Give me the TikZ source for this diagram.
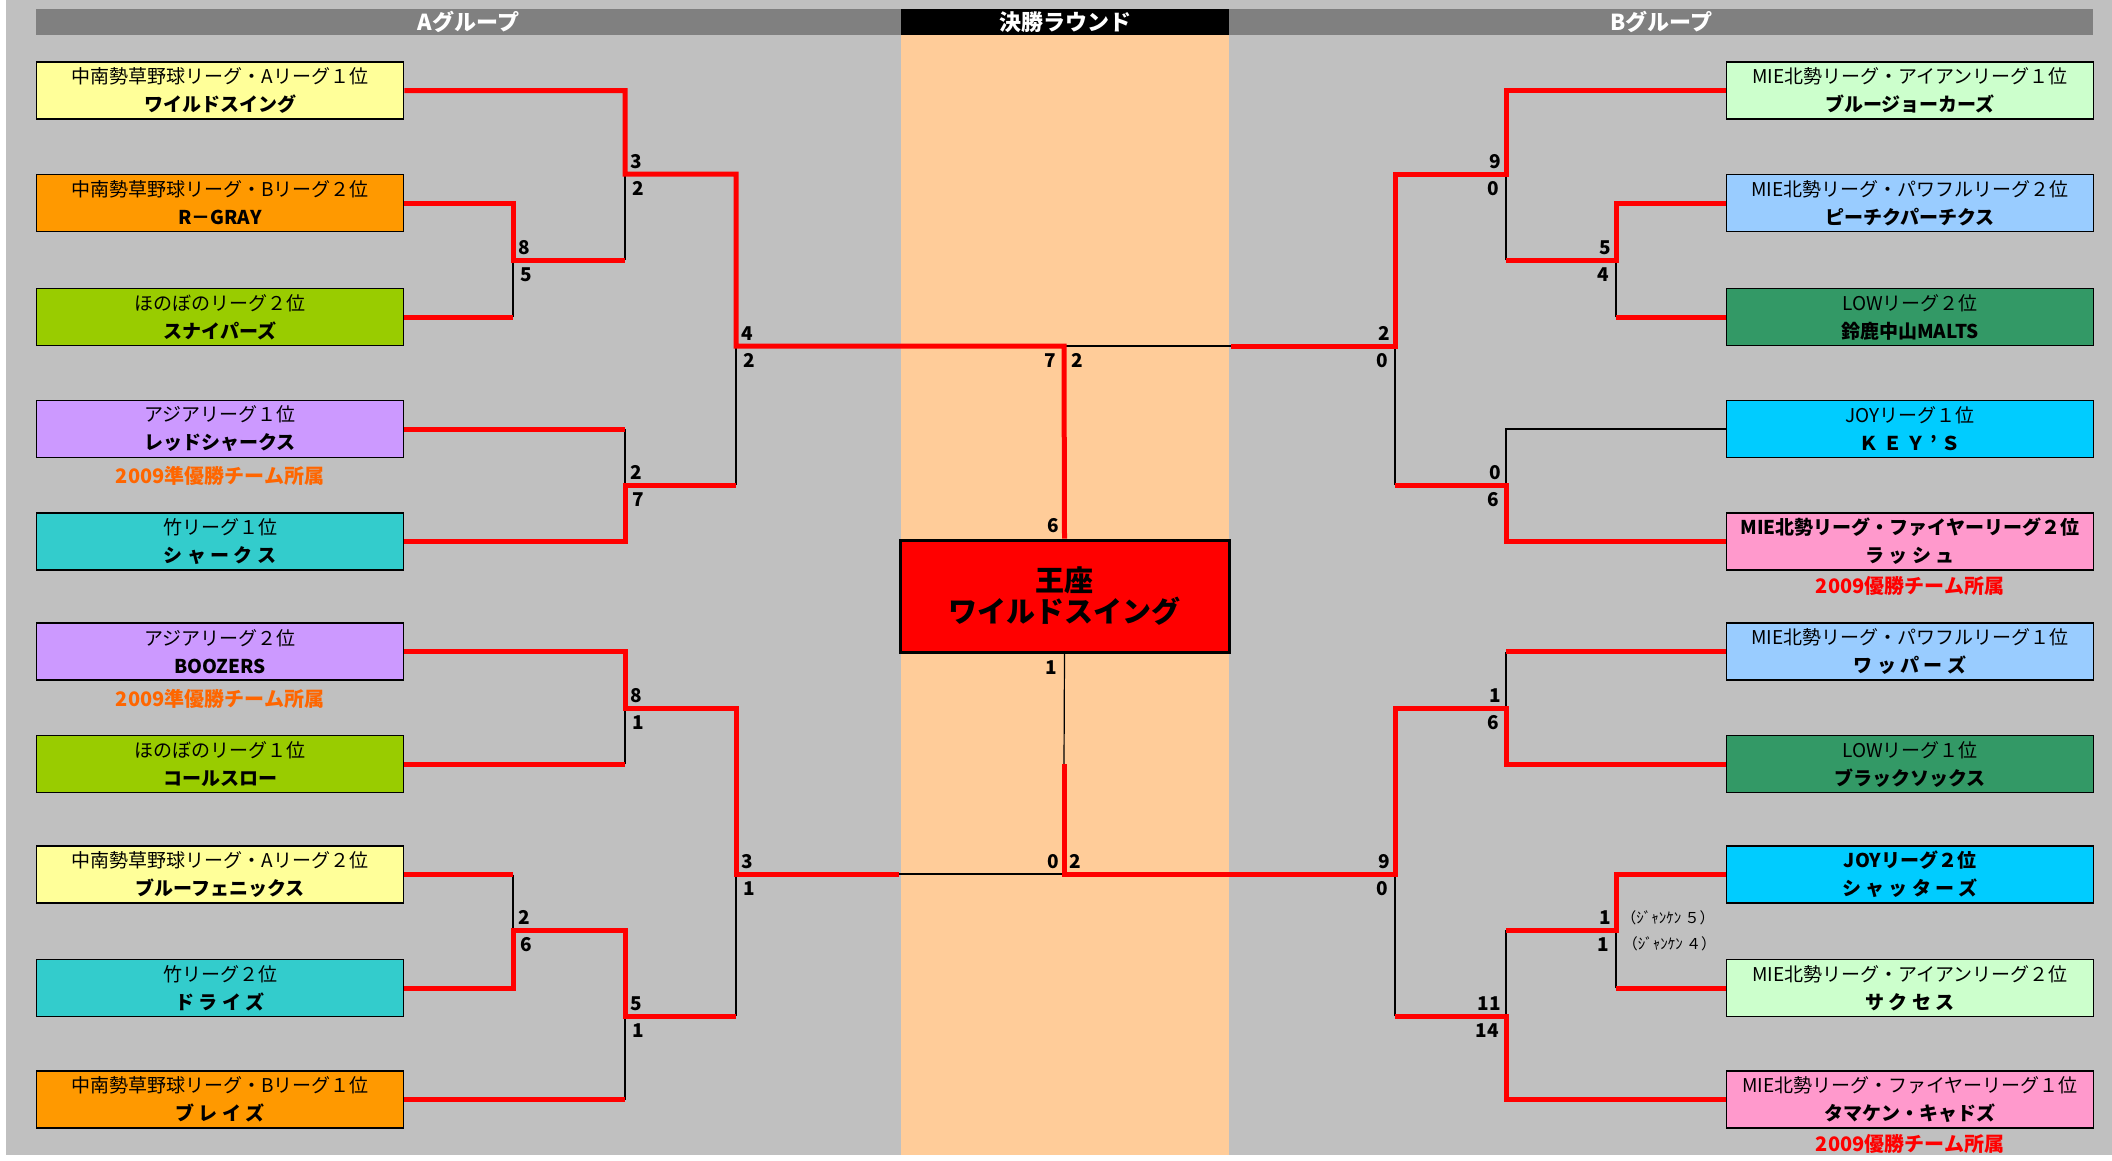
\documentclass[tikz,border=0pt]{standalone}
\usepackage{fontspec}
\setmainfont{Noto Sans CJK JP}
\usetikzlibrary{positioning}
\definecolor{bggray}{HTML}{C0C0C0}
\definecolor{bargray}{HTML}{808080}
\definecolor{peach}{HTML}{FFCC99}
\definecolor{tmyellow}{HTML}{FFFF99}
\definecolor{tmorange}{HTML}{FF9900}
\definecolor{tmlime}{HTML}{99CC00}
\definecolor{tmlilac}{HTML}{CC99FF}
\definecolor{tmteal}{HTML}{33CCCC}
\definecolor{tmmint}{HTML}{CCFFCC}
\definecolor{tmsky}{HTML}{99CCFF}
\definecolor{tmgreen}{HTML}{339966}
\definecolor{tmcyan}{HTML}{00CCFF}
\definecolor{tmpink}{HTML}{FF99CC}
\definecolor{runnerup}{HTML}{FF6600}
\definecolor{winred}{HTML}{FF0000}

\tikzset{
  team/.style={draw=black, line width=1.6pt, minimum width=367pt, minimum height=57pt,
    inner sep=0pt, align=center, font=\fontsize{19}{28}\selectfont},
  hbar/.style={minimum height=26pt, inner sep=0pt, text=white, font=\fontsize{22}{22}\selectfont\bfseries},
  win/.style={draw=winred, line width=5pt},
  lose/.style={draw=black, line width=1.2pt},
  score/.style={font=\fontsize{19}{19}\selectfont\bfseries, inner sep=3pt},
  jank/.style={font=\fontsize{15}{15}\selectfont, inner sep=3pt},
  note/.style={font=\fontsize{20}{20}\selectfont\bfseries, inner sep=0pt},
  crown/.style={draw=black, line width=3pt, fill=winred, minimum width=329pt, minimum height=112pt,
    align=center, font=\fontsize{29}{31}\selectfont\bfseries}
}

\begin{document}
\begin{tikzpicture}[x=1pt, y=-1pt]
  \useasboundingbox (0,0) rectangle (2112,1160);
  \fill[white] (0,0) rectangle (2112,1160);
  \fill[bggray] (6,0) rectangle (2112,1155);
  \fill[peach] (901,35) rectangle (1229,1155);

  % header
  \node[hbar, fill=bargray, minimum width=865pt] (hA) at (468.5,22) {Aグループ};
  \node[hbar, fill=black, minimum width=328pt] (hF) at (1065,22) {決勝ラウンド};
  \node[hbar, fill=bargray, minimum width=864pt] (hB) at (1661,22) {Bグループ};

  % A group
  \node[team, fill=tmyellow] (a1) at (220,90.5) {中南勢草野球リーグ・Aリーグ１位\\\textbf{ワイルドスイング}};
  \node[team, fill=tmorange] (a2) at (220,203) {中南勢草野球リーグ・Bリーグ２位\\\textbf{R－GRAY}};
  \node[team, fill=tmlime] (a3) at (220,317) {ほのぼのリーグ２位\\\textbf{スナイパーズ}};
  \node[team, fill=tmlilac] (a4) at (220,429) {アジアリーグ１位\\\textbf{レッドシャークス}};
  \node[team, fill=tmteal] (a5) at (220,541.5) {竹リーグ１位\\\textbf{シ ャ ー ク ス}};
  \node[team, fill=tmlilac] (a6) at (220,651.5) {アジアリーグ２位\\\textbf{BOOZERS}};
  \node[team, fill=tmlime] (a7) at (220,764) {ほのぼのリーグ１位\\\textbf{コールスロー}};
  \node[team, fill=tmyellow] (a8) at (220,874.5) {中南勢草野球リーグ・Aリーグ２位\\\textbf{ブルーフェニックス}};
  \node[team, fill=tmteal] (a9) at (220,988) {竹リーグ２位\\\textbf{ド ラ イ ズ}};
  \node[team, fill=tmorange] (a10) at (220,1099.5) {中南勢草野球リーグ・Bリーグ１位\\\textbf{ブ レ イ ズ}};
  \node[note, text=runnerup, below=8pt of a4] (a4note) {2009準優勝チーム所属};
  \node[note, text=runnerup, below=8pt of a6] (a6note) {2009準優勝チーム所属};

  % B group
  \node[team, fill=tmmint] (b1) at (1910,90.5) {MIE北勢リーグ・アイアンリーグ１位\\\textbf{ブルージョーカーズ}};
  \node[team, fill=tmsky] (b2) at (1910,203) {MIE北勢リーグ・パワフルリーグ２位\\\textbf{ピーチクパーチクス}};
  \node[team, fill=tmgreen] (b3) at (1910,317) {LOWリーグ２位\\\textbf{鈴鹿中山MALTS}};
  \node[team, fill=tmcyan] (b4) at (1910,429) {JOYリーグ１位\\\textbf{Ｋ Ｅ Ｙ ’ Ｓ}};
  \node[team, fill=tmpink] (b5) at (1910,541.5) {\textbf{MIE北勢リーグ・ファイヤーリーグ２位}\\\textbf{ラ ッ シ ュ}};
  \node[team, fill=tmsky] (b6) at (1910,651.5) {MIE北勢リーグ・パワフルリーグ１位\\\textbf{ワ ッ パ ー ズ}};
  \node[team, fill=tmgreen] (b7) at (1910,764) {LOWリーグ１位\\\textbf{ブラックソックス}};
  \node[team, fill=tmcyan] (b8) at (1910,874.5) {\textbf{JOYリーグ２位}\\\textbf{シ ャ ッ タ ー ズ}};
  \node[team, fill=tmmint] (b9) at (1910,988) {MIE北勢リーグ・アイアンリーグ２位\\\textbf{サ ク セ ス}};
  \node[team, fill=tmpink] (b10) at (1910,1099.5) {MIE北勢リーグ・ファイヤーリーグ１位\\\textbf{タマケン・キャドズ}};
  \node[note, text=winred, below=5pt of b5] (b5note) {2009優勝チーム所属};
  \node[note, text=winred, below=5pt of b10] (b10note) {2009優勝チーム所属};

  % final
  \node[crown] (ou) at (1064.5,596) {王座\\ワイルドスイング};

  % junctions
  \coordinate (c23) at (513,260);
  \coordinate (c1) at (625,174);
  \coordinate (c45) at (625,485);
  \coordinate (sLt) at (736,346);
  \coordinate (c67) at (625,708);
  \coordinate (c89) at (513,930);
  \coordinate (c10) at (625,1016);
  \coordinate (sLb) at (736,874);
  \coordinate (ftop) at (1064,346);
  \coordinate (fmid) at (1064,764);
  \coordinate (fbot) at (1064,874);
  \coordinate (d23) at (1616,260);
  \coordinate (d1) at (1506,174);
  \coordinate (d45) at (1506,485);
  \coordinate (sRt) at (1395,346);
  \coordinate (d67) at (1506,708);
  \coordinate (d89) at (1616,930);
  \coordinate (d10) at (1506,1016);
  \coordinate (sRb) at (1395,874);

  % losing lines
  \draw[lose] (a3.east -| c23) -- (c23);
  \draw[lose] (c23 -| c1) -- (c1);
  \draw[lose] (a4.east -| c45) -- (c45);
  \draw[lose] (c45 -| sLt) -- (sLt);
  \draw[lose] (a7.east -| c67) -- (c67);
  \draw[lose] (a8.east -| c89) -- (c89);
  \draw[lose] (a10.east -| c10) -- (c10);
  \draw[lose] (c10 -| sLb) -- (sLb);
  \draw[lose] (sLb -| ou.west) -- (fbot);
  \draw[lose] (ftop) -- (ftop -| ou.east);
  \draw[lose] (ou.south) -- (fmid);
  \draw[lose] (b3.west -| d23) -- (d23);
  \draw[lose] (d23 -| d1) -- (d1);
  \draw[lose] (b4.west) -| (d45);
  \draw[lose] (d45 -| sRt) -- (sRt);
  \draw[lose] (b6.west -| d67) -- (d67);
  \draw[lose] (b9.west -| d89) -- (d89);
  \draw[lose] (d89 -| d10) -- (d10);
  \draw[lose] (d10 -| sRb) -- (sRb);

  % winning lines
  \draw[win] (a1.east) -| (c1) -| (sLt) -- (ftop) -- (ou.north);
  \draw[win] (a2.east) -| (c23) -- (c23 -| c1);
  \draw[win] (a3.east) -- (a3.east -| c23);
  \draw[win] (a4.east) -- (a4.east -| c45);
  \draw[win] (a5.east) -| (c45) -- (c45 -| sLt);
  \draw[win] (a6.east) -| (c67) -| (sLb) -- (sLb -| ou.west);
  \draw[win] (a7.east) -- (a7.east -| c67);
  \draw[win] (a8.east) -- (a8.east -| c89);
  \draw[win] (a9.east) -| (c89) -| (c10) -- (c10 -| sLb);
  \draw[win] (a10.east) -- (a10.east -| c10);
  \draw[win] (b1.west) -| (d1) -| (sRt) -- (ftop -| ou.east);
  \draw[win] (b2.west) -| (d23) -- (d23 -| d1);
  \draw[win] (b3.west) -- (b3.west -| d23);
  \draw[win] (b5.west) -| (d45) -- (d45 -| sRt);
  \draw[win] (b6.west) -- (b6.west -| d67);
  \draw[win] (b7.west) -| (d67) -| (sRb) -- (fbot) -- (fmid);
  \draw[win] (b8.west) -| (d89) -- (d89 -| d10);
  \draw[win] (b9.west) -- (b9.west -| d89);
  \draw[win] (b10.west) -| (d10) -- (d10 -| sRb);

  % scores
  \node[score, above right=3pt] at (c23) {8};
  \node[score, below right=6pt] at (c23) {5};
  \node[score, above right=3pt] at (c1) {3};
  \node[score, below right=6pt] at (c1) {2};
  \node[score, above right=3pt] at (c45) {2};
  \node[score, below right=6pt] at (c45) {7};
  \node[score, above right=3pt] at (sLt) {4};
  \node[score, below right=6pt] at (sLt) {2};
  \node[score, above right=3pt] at (c67) {8};
  \node[score, below right=6pt] at (c67) {1};
  \node[score, above right=3pt] at (c89) {2};
  \node[score, below right=6pt] at (c89) {6};
  \node[score, above right=3pt] at (c10) {5};
  \node[score, below right=6pt] at (c10) {1};
  \node[score, above right=3pt] at (sLb) {3};
  \node[score, below right=6pt] at (sLb) {1};
  \node[score, below left=6pt] at (ftop) {7};
  \node[score, below right=6pt] at (ftop) {2};
  \node[score, above left=3pt] at (ou.north) {6};
  \node[score, below left=6pt] at (ou.south) {1};
  \node[score, above left=3pt] at (fbot) {0};
  \node[score, above right=3pt] at (fbot) {2};
  \node[score, above left=3pt] at (d1) {9};
  \node[score, below left=6pt] at (d1) {0};
  \node[score, above left=3pt] at (d23) {5};
  \node[score, below left=6pt] at (d23) {4};
  \node[score, above left=3pt] at (sRt) {2};
  \node[score, below left=6pt] at (sRt) {0};
  \node[score, above left=3pt] at (d45) {0};
  \node[score, below left=6pt] at (d45) {6};
  \node[score, above left=3pt] at (d67) {1};
  \node[score, below left=6pt] at (d67) {6};
  \node[score, above left=3pt] at (sRb) {9};
  \node[score, below left=6pt] at (sRb) {0};
  \node[score, above left=3pt] at (d89) {1};
  \node[jank, above right=3pt] at (d89) {（ｼﾞｬﾝｹﾝ ５）};
  \node[score, below left=6pt] at (d89) {1};
  \node[jank, below right=5pt] at (d89) {（ｼﾞｬﾝｹﾝ ４）};
  \node[score, above left=3pt] at (d10) {11};
  \node[score, below left=6pt] at (d10) {14};
\end{tikzpicture}
\end{document}
